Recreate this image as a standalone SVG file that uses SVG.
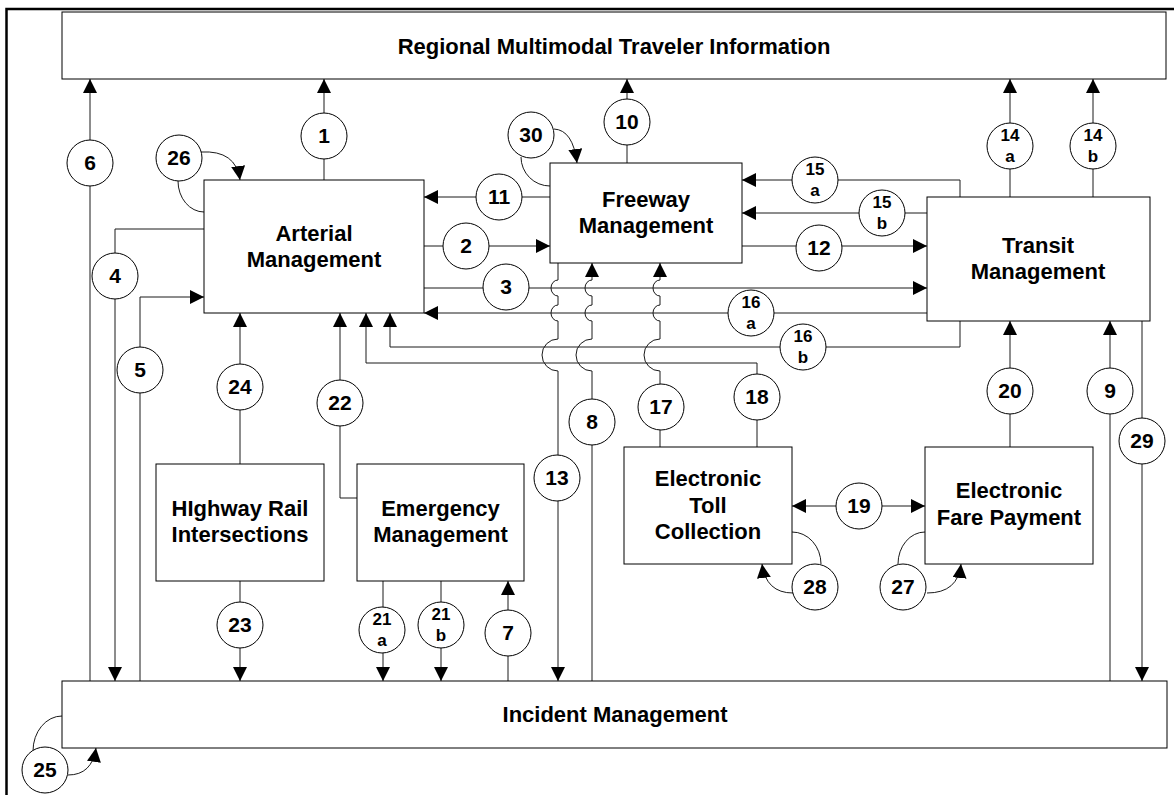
<svg xmlns="http://www.w3.org/2000/svg" width="1174" height="795" viewBox="0 0 1174 795">
<style>
.box{fill:#fff;stroke:#000;stroke-width:1}
.t{font-family:"Liberation Sans",Arial,sans-serif;font-weight:bold;font-size:22px;text-anchor:middle;fill:#000}
.c{fill:#fff;stroke:#000;stroke-width:1}
.n{font-family:"Liberation Sans",Arial,sans-serif;font-weight:bold;font-size:21px;text-anchor:middle;fill:#000}
.s{font-family:"Liberation Sans",Arial,sans-serif;font-weight:bold;font-size:17px;text-anchor:middle;fill:#000}
.ln{fill:none;stroke:#1a1a1a;stroke-width:1}
.a{marker-end:url(#ah)}
.frame{fill:none;stroke:#000;stroke-width:2.5}
</style>
<defs>
<marker id="ah" markerUnits="userSpaceOnUse" markerWidth="14" markerHeight="14" refX="14" refY="7" orient="auto-start-reverse" viewBox="0 0 14 14">
<path d="M0,0 L14,7 L0,14 z" fill="#000"/>
</marker>
</defs>
<rect width="1174" height="795" fill="#fff"/>
<path class="frame" d="M6.5,795 V9 H1174"/>

<g id="connectors">
<path class="ln a" d="M324,180 V79"/>
<path class="ln a" d="M90,681 V79"/>
<path class="ln" d="M178,181 A26,31 0 0 0 204,212"/>
<path class="ln a" d="M201,152 Q236,150 240,180"/>
<path class="ln a" d="M204,229 H115 V681"/>
<path class="ln a" d="M140,681 V297 H204"/>
<path class="ln a" d="M240,464 V313"/>
<path class="ln a" d="M357,498 H340 V313"/>
<path class="ln a" d="M240,581 V681"/>
<path class="ln a" d="M383,581 V681"/>
<path class="ln a" d="M441,581 V681"/>
<path class="ln a" d="M508,681 V581"/>
<path class="ln a" d="M558,263 V280 A7,8 0 0 0 558,296 V305 A7,8 0 0 0 558,321 V339 A16,16 0 0 0 558,371 V681"/>
<path class="ln a" d="M592,681 V371 A16,16 0 0 1 592,339 V321 A7,8 0 0 1 592,305 V296 A7,8 0 0 1 592,280 V263"/>
<path class="ln a" d="M660,447 V371 A16,16 0 0 1 660,339 V321 A7,8 0 0 1 660,305 V296 A7,8 0 0 1 660,280 V263"/>
<path class="ln a" d="M757,447 V363 H366 V313"/>
<path class="ln a" d="M960,321 V347 H390 V313"/>
<path class="ln a" d="M927,313 H424"/>
<path class="ln a" d="M424,288 H927"/>
<path class="ln a" d="M424,246 H550"/>
<path class="ln a" d="M550,197 H424"/>
<path class="ln a" d="M554,129 Q573,130 577,163"/>
<path class="ln" d="M521,157 A29,29 0 0 0 550,186"/>
<path class="ln a" d="M627,163 V79"/>
<path class="ln a" d="M742,246 H927"/>
<path class="ln a" d="M960,197 V180 H742"/>
<path class="ln a" d="M927,213 H742"/>
<path class="ln a" d="M1010,197 V79"/>
<path class="ln a" d="M1093,197 V79"/>
<path class="ln a" d="M1010,447 V321"/>
<path class="ln a" d="M1110,681 V321"/>
<path class="ln a" d="M1142,321 V681"/>
<path class="ln a" d="M792,506 H925" marker-start="url(#ah)"/>
<path class="ln" d="M821,564 A29,32 0 0 0 792,532"/>
<path class="ln a" d="M793,593 Q766,593 762,564"/>
<path class="ln" d="M898,564 A27,32 0 0 1 925,532"/>
<path class="ln a" d="M927,593 Q958,593 961,564"/>
<path class="ln" d="M33,751 A29,35 0 0 1 62,716"/>
<path class="ln a" d="M68,775 Q92,775 96,748"/>
</g>

<g id="regional"><rect class="box" x="62" y="12" width="1104" height="67"/><text class="t" x="614" y="54">Regional Multimodal Traveler Information</text></g>
<g id="arterial"><rect class="box" x="204" y="180" width="220" height="133"/><text class="t" x="314" y="241">Arterial</text><text class="t" x="314" y="267">Management</text></g>
<g id="freeway"><rect class="box" x="550" y="163" width="192" height="100"/><text class="t" x="646" y="207">Freeway</text><text class="t" x="646" y="233">Management</text></g>
<g id="transit"><rect class="box" x="927" y="197" width="223" height="124"/><text class="t" x="1038" y="253">Transit</text><text class="t" x="1038" y="279">Management</text></g>
<g id="highway"><rect class="box" x="156" y="464" width="168" height="117"/><text class="t" x="240" y="516">HIghway Rail</text><text class="t" x="240" y="542">Intersections</text></g>
<g id="emergency"><rect class="box" x="357" y="464" width="167" height="117"/><text class="t" x="440.5" y="516">Emergency</text><text class="t" x="440.5" y="542">Management</text></g>
<g id="toll"><rect class="box" x="624" y="447" width="168" height="117"/><text class="t" x="708" y="486">Electronic</text><text class="t" x="708" y="513">Toll</text><text class="t" x="708" y="539">Collection</text></g>
<g id="fare"><rect class="box" x="925" y="447" width="168" height="117"/><text class="t" x="1009" y="498">Electronic</text><text class="t" x="1009" y="525">Fare Payment</text></g>
<g id="incident"><rect class="box" x="62" y="681" width="1105" height="67"/><text class="t" x="615" y="722">Incident Management</text></g>

<g id="labels">
<g id="l1"><circle class="c" cx="324" cy="136" r="23"/><text class="n" x="324" y="143">1</text></g>
<g id="l2"><circle class="c" cx="466" cy="246" r="23"/><text class="n" x="466" y="253">2</text></g>
<g id="l3"><circle class="c" cx="506" cy="287" r="23"/><text class="n" x="506" y="294">3</text></g>
<g id="l4"><circle class="c" cx="115" cy="276" r="23"/><text class="n" x="115" y="283">4</text></g>
<g id="l5"><circle class="c" cx="140" cy="370" r="23"/><text class="n" x="140" y="377">5</text></g>
<g id="l6"><circle class="c" cx="90" cy="163" r="23"/><text class="n" x="90" y="170">6</text></g>
<g id="l7"><circle class="c" cx="508" cy="633" r="23"/><text class="n" x="508" y="640">7</text></g>
<g id="l8"><circle class="c" cx="592" cy="422" r="23"/><text class="n" x="592" y="429">8</text></g>
<g id="l9"><circle class="c" cx="1110" cy="391" r="23"/><text class="n" x="1110" y="398">9</text></g>
<g id="l10"><circle class="c" cx="627" cy="122" r="23"/><text class="n" x="627" y="129">10</text></g>
<g id="l11"><circle class="c" cx="499" cy="197" r="23"/><text class="n" x="499" y="204">11</text></g>
<g id="l12"><circle class="c" cx="819" cy="248" r="23"/><text class="n" x="819" y="255">12</text></g>
<g id="l13"><circle class="c" cx="557" cy="478" r="23"/><text class="n" x="557" y="485">13</text></g>
<g id="l14a"><circle class="c" cx="1010" cy="146" r="23"/><text class="s" x="1010" y="141">14</text><text class="s" x="1010" y="162">a</text></g>
<g id="l14b"><circle class="c" cx="1093" cy="146" r="23"/><text class="s" x="1093" y="141">14</text><text class="s" x="1093" y="162">b</text></g>
<g id="l15a"><circle class="c" cx="815" cy="180" r="23"/><text class="s" x="815" y="175">15</text><text class="s" x="815" y="196">a</text></g>
<g id="l15b"><circle class="c" cx="882" cy="213" r="23"/><text class="s" x="882" y="208">15</text><text class="s" x="882" y="229">b</text></g>
<g id="l16a"><circle class="c" cx="751" cy="313" r="23"/><text class="s" x="751" y="308">16</text><text class="s" x="751" y="329">a</text></g>
<g id="l16b"><circle class="c" cx="803" cy="347" r="23"/><text class="s" x="803" y="342">16</text><text class="s" x="803" y="363">b</text></g>
<g id="l17"><circle class="c" cx="661" cy="407" r="23"/><text class="n" x="661" y="414">17</text></g>
<g id="l18"><circle class="c" cx="757" cy="397" r="23"/><text class="n" x="757" y="404">18</text></g>
<g id="l19"><circle class="c" cx="859" cy="506" r="23"/><text class="n" x="859" y="513">19</text></g>
<g id="l20"><circle class="c" cx="1010" cy="391" r="23"/><text class="n" x="1010" y="398">20</text></g>
<g id="l21a"><circle class="c" cx="382" cy="630" r="23"/><text class="s" x="382" y="625">21</text><text class="s" x="382" y="646">a</text></g>
<g id="l21b"><circle class="c" cx="441" cy="625" r="23"/><text class="s" x="441" y="620">21</text><text class="s" x="441" y="641">b</text></g>
<g id="l22"><circle class="c" cx="340" cy="403" r="23"/><text class="n" x="340" y="410">22</text></g>
<g id="l23"><circle class="c" cx="240" cy="625" r="23"/><text class="n" x="240" y="632">23</text></g>
<g id="l24"><circle class="c" cx="240" cy="387" r="23"/><text class="n" x="240" y="394">24</text></g>
<g id="l25"><circle class="c" cx="45" cy="770" r="23"/><text class="n" x="45" y="777">25</text></g>
<g id="l26"><circle class="c" cx="179" cy="158" r="23"/><text class="n" x="179" y="165">26</text></g>
<g id="l27"><circle class="c" cx="903" cy="587" r="23"/><text class="n" x="903" y="594">27</text></g>
<g id="l28"><circle class="c" cx="815" cy="587" r="23"/><text class="n" x="815" y="594">28</text></g>
<g id="l29"><circle class="c" cx="1142" cy="441" r="23"/><text class="n" x="1142" y="448">29</text></g>
<g id="l30"><circle class="c" cx="531" cy="135" r="23"/><text class="n" x="531" y="142">30</text></g>
</g>
</svg>
